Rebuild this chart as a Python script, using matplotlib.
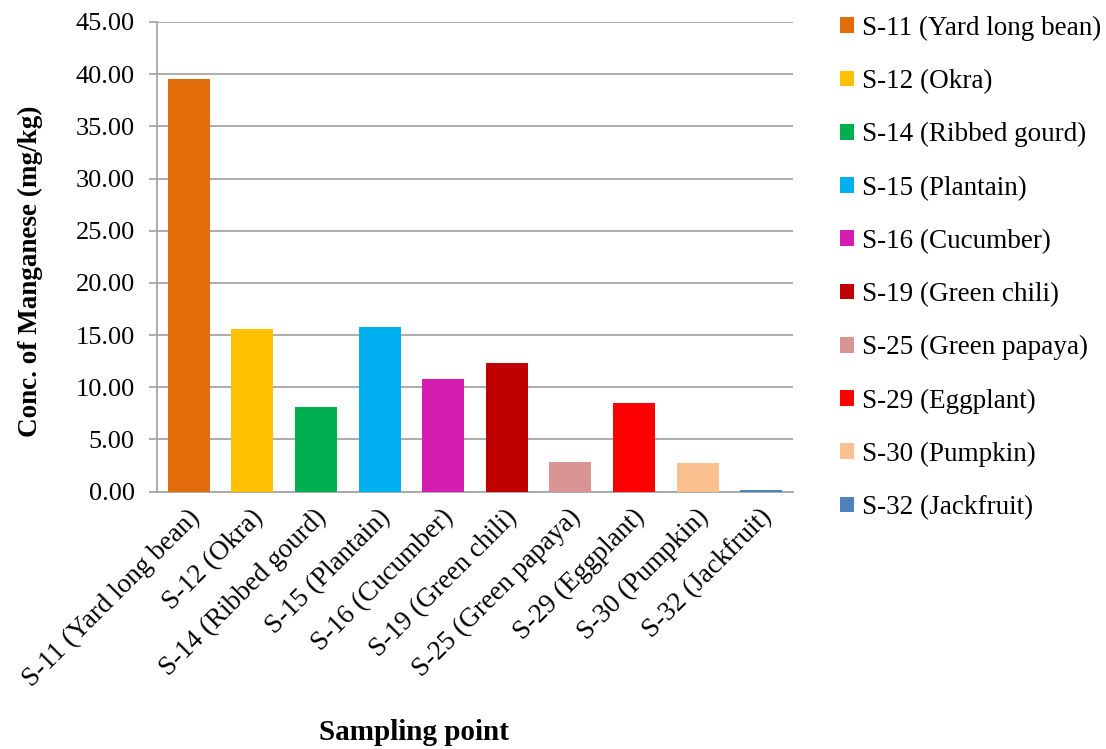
import matplotlib
matplotlib.use("Agg")
import matplotlib.pyplot as plt
import matplotlib.transforms as mtrans
from matplotlib.patches import Patch

# Manganese concentration by sampling point
categories = [
    "S-11 (Yard long bean)", "S-12 (Okra)", "S-14 (Ribbed gourd)",
    "S-15 (Plantain)", "S-16 (Cucumber)", "S-19 (Green chili)",
    "S-25 (Green papaya)", "S-29 (Eggplant)", "S-30 (Pumpkin)",
    "S-32 (Jackfruit)",
]
manganese = [39.55, 15.55, 8.06, 15.78, 10.78, 12.27, 2.82, 8.50, 2.72, 0.13]
bar_colors = [
    "#E36C0A", "#FFC000", "#00B050", "#00B0F0", "#D41CB0",
    "#C00000", "#D99594", "#FF0000", "#FAC090", "#4F81BD",
]
y_ticks = [0, 5, 10, 15, 20, 25, 30, 35, 40, 45]

plt.rcParams["font.family"] = ["Liberation Serif", "DejaVu Serif"]

W, H = 1106, 749
fig = plt.figure(figsize=(W / 100, H / 100), dpi=100)
ax = fig.add_axes([157 / W, 1 - 491.5 / H, (793 - 157) / W, (491.5 - 22) / H])

x = list(range(len(categories)))
ax.bar(x, manganese, width=0.66, color=bar_colors, zorder=3)

ax.set_xlim(-0.5, len(categories) - 0.5)
ax.set_ylim(0, 45)
ax.set_yticks(y_ticks)
ax.set_yticklabels([f"{v:.2f}" for v in y_ticks], fontsize=19)
ax.yaxis.grid(True, color="#A6A6A6", linewidth=1.3, zorder=0)
ax.set_axisbelow(True)

for side in ("top", "right"):
    ax.spines[side].set_visible(False)
for side in ("left", "bottom"):
    ax.spines[side].set_color("#A6A6A6")
    ax.spines[side].set_linewidth(1.3)

ax.tick_params(axis="y", length=6, width=1.3, color="#A6A6A6", pad=10)
ax.tick_params(axis="x", length=0, pad=0)

ax.set_xticks(x)
ax.set_xticklabels(categories, fontsize=19.5, rotation=45, ha="right",
                   va="center", rotation_mode="anchor")
offset = mtrans.ScaledTranslation(7 / 100, -22 / 100, fig.dpi_scale_trans)
for lbl in ax.get_xticklabels():
    lbl.set_transform(lbl.get_transform() + offset)

fig.text(30 / W, 1 - 271 / H, "Conc. of Manganese (mg/kg)", rotation=90,
         ha="center", va="center", fontsize=19.5, fontweight="bold")
fig.text(414 / W, 1 - 732 / H, "Sampling point", ha="center", va="center",
         fontsize=21, fontweight="bold")

handles = [Patch(facecolor=c, edgecolor="none") for c in bar_colors]
fig.legend(handles, categories, loc="upper left",
           bbox_to_anchor=(829 / W, 1 - 5 / H), frameon=False, fontsize=19.5,
           handlelength=0.52, handleheight=0.52, handletextpad=0.3,
           labelspacing=1.04, borderaxespad=0)

fig.savefig("out.png", dpi=100)
